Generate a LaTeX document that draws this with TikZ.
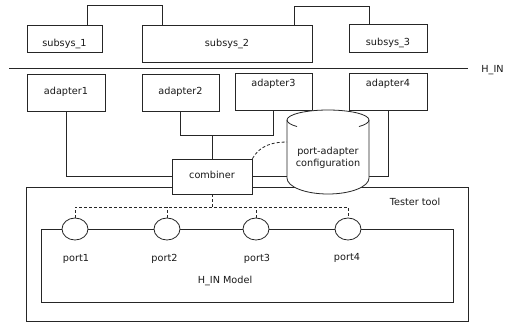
\documentclass[tikz,border=0pt]{standalone}
\usepackage{fontspec}
\setmainfont{DejaVu Sans}
\usetikzlibrary{shapes.geometric}
\begin{document}
\begin{tikzpicture}[x=1pt,y=-1pt, line width=0.8pt]
\definecolor{ln}{gray}{0.15}
\tikzset{
  wire/.style={draw=ln, line width=0.8pt},
  box/.style={draw=ln, fill=white, line width=0.8pt, inner sep=0pt},
  txt/.style={inner sep=0pt, font=\fontsize{9.7pt}{12pt}\selectfont, text=black!90},
  port/.style={ellipse, draw=ln, fill=white, line width=0.8pt, minimum width=26pt, minimum height=22pt, inner sep=0pt},
  dsh/.style={wire, dash pattern=on 3pt off 2pt}
}
\useasboundingbox[fill=white] (0,0) rectangle (506,322);

% outer boxes
\node[box, minimum width=442pt, minimum height=134pt] (tester) at (247,254) {};
\node[txt] (testert) at (415,202) {Tester tool};
\node[box, minimum width=412pt, minimum height=73pt] (model) at (247,265.5) {};
\node[txt] (modelt) at (225,281) {H\_IN Model};

% subsystems
\node[box, minimum width=75pt, minimum height=27pt] (s1) at (64.5,38.5) {};
\node[txt] (s1t) at (64.5,44) {subsys\_1};
\node[box, minimum width=170pt, minimum height=37pt] (s2) at (227,43.5) {};
\node[txt] (s2t) at (227,43.5) {subsys\_2};
\node[box, minimum width=78pt, minimum height=28pt] (s3) at (388,38) {};
\node[txt] (s3t) at (388,42.5) {subsys\_3};

\draw[wire] ([xshift=22.5pt]s1.north) -- ++(0,-19) -| ([xshift=-65pt]s2.north);
\draw[wire] ([xshift=67pt]s2.north) -- ++(0,-18) -| ([xshift=-19pt]s3.north);

% separator
\coordinate (l1) at (9,68);
\coordinate (l2) at (468,68);
\draw[wire] (l1) -- (l2);
\node[txt, anchor=west] (hin) at (481,70) {H\_IN};

% adapters
\node[box, minimum width=78pt, minimum height=37pt] (a1) at (66,92.5) {};
\node[txt] (a1t) at (66,92) {adapter1};
\node[box, minimum width=77pt, minimum height=37pt] (a2) at (180.5,92.5) {};
\node[txt] (a2t) at (180.5,92) {adapter2};
\node[box, minimum width=77pt, minimum height=37pt] (a3) at (273.5,91.5) {};
\node[txt] (a3t) at (273.5,83.5) {adapter3};
\node[box, minimum width=78pt, minimum height=37pt] (a4) at (388,91.5) {};
\node[txt] (a4t) at (388,83.5) {adapter4};

% combiner
\node[box, minimum width=80pt, minimum height=35pt] (comb) at (212,176.5) {};
\coordinate (j) at (212,135);
\draw[wire] (a2.south) -- (a2.south |- j) -- (a3.south |- j) -- (a3.south);
\draw[wire] (j) -- (comb.north);
\draw[wire] (a1.south) |- (comb.west);
\draw[wire] (a4.south) |- (comb.east);

% cylinder
\draw[wire, fill=white] (287,120) -- (287,178) arc[start angle=180, end angle=360, x radius=41pt, y radius=16pt]
  -- (369,120) arc[start angle=0, end angle=180, x radius=41pt, y radius=10pt] -- cycle;
\draw[wire] (287,120) arc[start angle=180, end angle=221, x radius=41pt, y radius=10pt];
\draw[wire] (369,120) arc[start angle=360, end angle=319, x radius=41pt, y radius=10pt];
\node[txt, align=center] (cfg) at (328,158) {port-adapter\\configuration};
\coordinate (cl) at (287,142);
\draw[dsh] (comb.north east) to[out=60, in=180] (cl);

% combiner on top
\node[box, minimum width=80pt, minimum height=35pt] (comb2) at (comb) {};
\node[txt] (combt) at (212,175) {combiner};

% ports
\node[port] (p1) at (75,229) {};
\node[port] (p2) at (167,229) {};
\node[port] (p3) at (256,229) {};
\node[port] (p4) at (348,229) {};
\node[txt] (p1t) at (76,259) {port1};
\node[txt] (p2t) at (164.5,259) {port2};
\node[txt] (p3t) at (257,259) {port3};
\node[txt] (p4t) at (347,258) {port4};

\coordinate (d) at (212,207);
\draw[dsh] (comb.south) -- (d);
\draw[dsh] (p1.north) -- (p1.north |- d) -- (p4.north |- d) -- (p4.north);
\draw[dsh] (p2.north) -- (p2.north |- d);
\draw[dsh] (p3.north) -- (p3.north |- d);
\end{tikzpicture}
\end{document}
